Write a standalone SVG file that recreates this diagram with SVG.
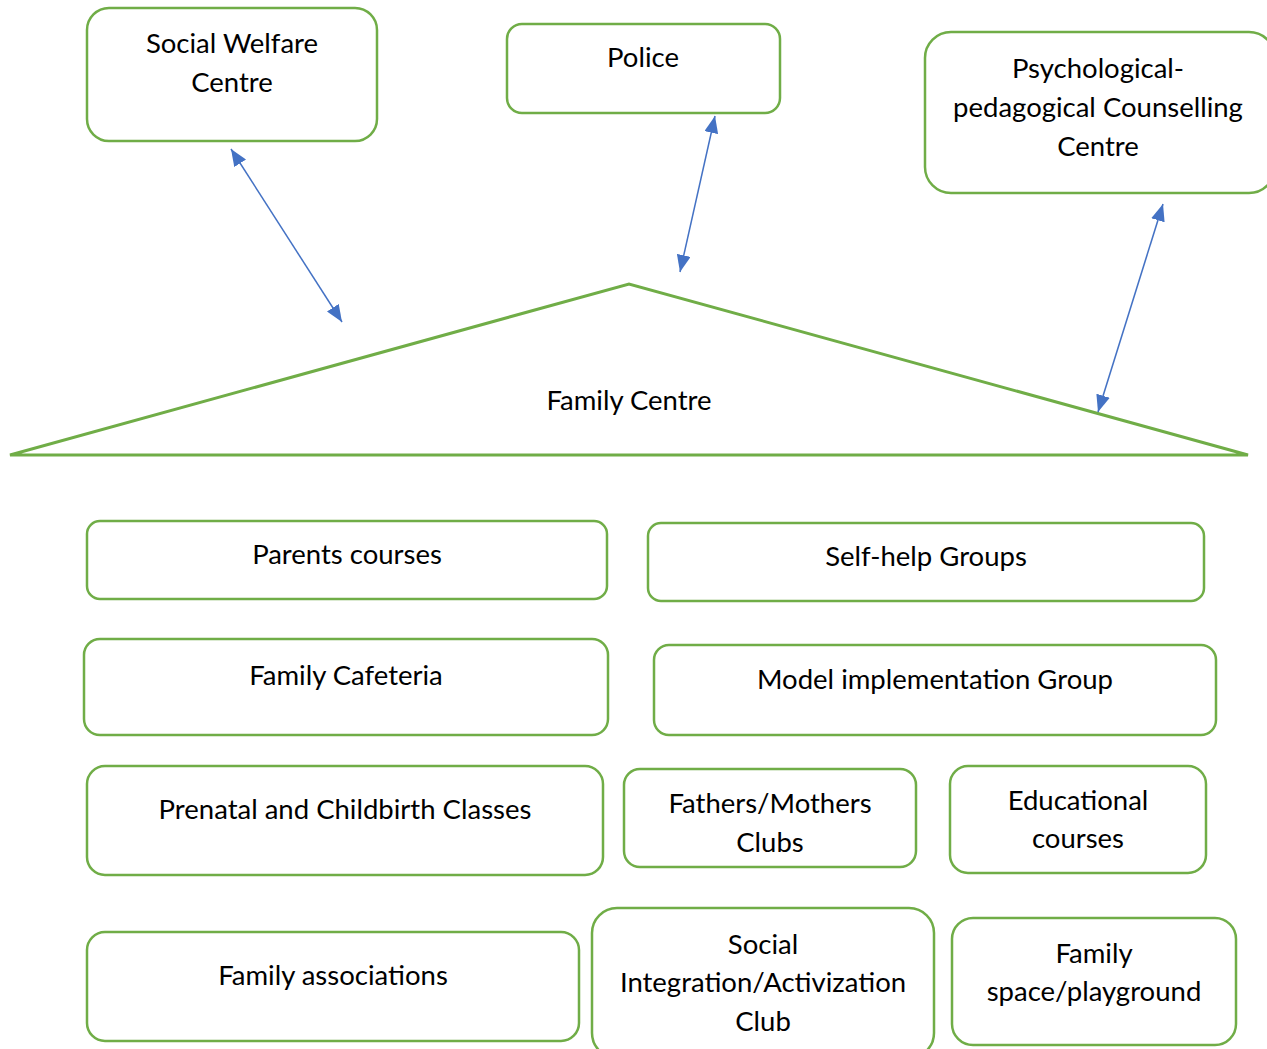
<svg xmlns="http://www.w3.org/2000/svg" width="1267" height="1049" viewBox="0 0 1267 1049">
<defs>
<style>
.box{fill:#fff;stroke:#70AD47;stroke-width:2.5}
.t{font-family:Lato,"Open Sans",sans-serif;font-size:27.5px;fill:#000;text-anchor:middle}
.c{stroke:#4472C4;stroke-width:1.5;fill:none;marker-start:url(#ah);marker-end:url(#ah)}
</style>
<marker id="ah" viewBox="0 0 17 14" refX="17" refY="7" markerWidth="17" markerHeight="14" markerUnits="userSpaceOnUse" orient="auto-start-reverse">
<path d="M0,0 L17,7 L0,14 z" fill="#4472C4"/>
</marker>
</defs>
<rect width="1267" height="1049" fill="#fff"/>
<g id="social-welfare"><rect class="box" x="87" y="8" width="290" height="133" rx="22"/><text class="t" x="232" y="53">Social Welfare</text><text class="t" x="232" y="92">Centre</text></g>
<g id="police"><rect class="box" x="507" y="24" width="273" height="89" rx="15"/><text class="t" x="643" y="67">Police</text></g>
<g id="psych"><rect class="box" x="925" y="32" width="350" height="161" rx="26"/><text class="t" x="1098" y="78">Psychological-</text><text class="t" x="1098" y="117">pedagogical Counselling</text><text class="t" x="1098" y="156">Centre</text></g>
<g id="family-centre"><polygon points="10,455 629,284 1248,455" fill="#fff" stroke="#70AD47" stroke-width="3"/><text class="t" x="629" y="410">Family Centre</text></g>
<g id="parents"><rect class="box" x="87" y="521" width="520" height="78" rx="13"/><text class="t" x="347" y="564">Parents courses</text></g>
<g id="selfhelp"><rect class="box" x="648" y="523" width="556" height="78" rx="13"/><text class="t" x="926" y="566">Self-help Groups</text></g>
<g id="cafeteria"><rect class="box" x="84" y="639" width="524" height="96" rx="16"/><text class="t" x="346" y="685">Family Cafeteria</text></g>
<g id="model"><rect class="box" x="654" y="645" width="562" height="90" rx="15"/><text class="t" x="935" y="689">Model implementation Group</text></g>
<g id="prenatal"><rect class="box" x="87" y="766" width="516" height="109" rx="18"/><text class="t" x="345" y="819">Prenatal and Childbirth Classes</text></g>
<g id="fathers"><rect class="box" x="624" y="769" width="292" height="98" rx="16"/><text class="t" x="770" y="813">Fathers/Mothers</text><text class="t" x="770" y="852">Clubs</text></g>
<g id="educational"><rect class="box" x="950" y="766" width="256" height="107" rx="18"/><text class="t" x="1078" y="810">Educational</text><text class="t" x="1078" y="848">courses</text></g>
<g id="associations"><rect class="box" x="87" y="932" width="492" height="109" rx="18"/><text class="t" x="333" y="985">Family associations</text></g>
<g id="integration"><rect class="box" x="592" y="908" width="342" height="150" rx="25"/><text class="t" x="763" y="954">Social</text><text class="t" x="763" y="992">Integration/Activization</text><text class="t" x="763" y="1031">Club</text></g>
<g id="playground"><rect class="box" x="952" y="918" width="284" height="127" rx="21"/><text class="t" x="1094" y="963">Family</text><text class="t" x="1094" y="1001">space/playground</text></g>
<g id="connectors">
<line class="c" x1="231" y1="149" x2="342" y2="322"/>
<line class="c" x1="715" y1="116" x2="680" y2="272"/>
<line class="c" x1="1163" y1="204" x2="1098" y2="412"/>
</g>
</svg>
